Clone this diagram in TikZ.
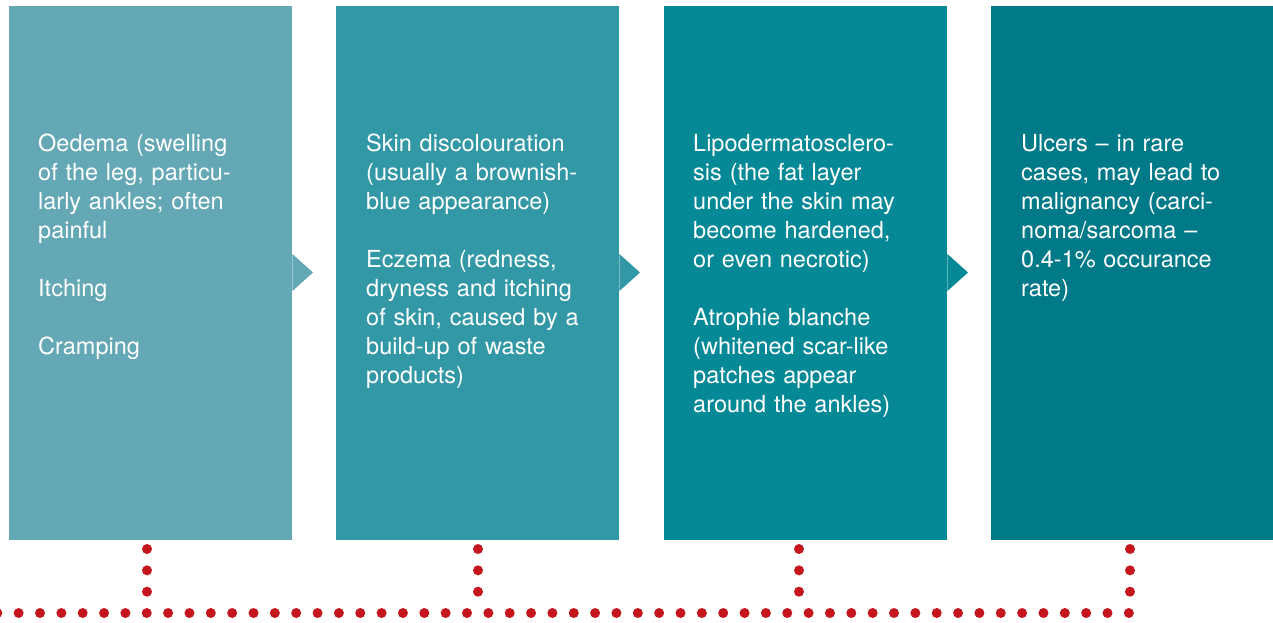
\documentclass[tikz,border=0pt]{standalone}
\usepackage{fontspec}
\setmainfont{TeX Gyre Heros}
\definecolor{cA}{HTML}{63A8B4}
\definecolor{cB}{HTML}{3398A6}
\definecolor{cC}{HTML}{068996}
\definecolor{cD}{HTML}{007A88}
\definecolor{dotred}{HTML}{C4161C}
\tikzset{
  stagebox/.style={draw=none, inner sep=0pt, minimum width=283pt, minimum height=534pt, anchor=north west},
  stagetext/.style={text=white, inner sep=0pt, anchor=base west, text width=260pt, align=left,
    font=\fontsize{23.5}{29}\selectfont},
  dotline/.style={dotred, line width=10pt, line cap=round, dash pattern=on 0pt off 21.35pt}
}
\begin{document}
\begin{tikzpicture}[x=1pt,y=-1pt]
\useasboundingbox (0,0) rectangle (1273,623);
\node[stagebox, fill=cA] (b1) at (9,6) {};
\node[stagebox, fill=cB] (b2) at (336,6) {};
\node[stagebox, fill=cC] (b3) at (664,6) {};
\node[stagebox, fill=cD, minimum width=284pt] (b4) at (991,6) {};
\fill[cA] (b1.north east |- 0,254) -- (313,272.5) -- (b1.north east |- 0,291) -- cycle;
\fill[cB] (b2.north east |- 0,254) -- (640,272.5) -- (b2.north east |- 0,291) -- cycle;
\fill[cC] (b3.north east |- 0,254) -- (968,272.5) -- (b3.north east |- 0,291) -- cycle;

\node[stagetext] (t1) at (38,151) {Oedema (swelling\\of the leg, particu-\\larly ankles; often\\painful\\[29pt]Itching\\[29pt]Cramping};
\node[stagetext] (t2) at (366,151) {Skin discolouration\\(usually a brownish-\\blue appearance)\\[29pt]Eczema (redness,\\dryness and itching\\of skin, caused by a\\build-up of waste\\products)};
\node[stagetext] (t3) at (693,151) {Lipodermatosclero-\\sis (the fat layer\\under the skin may\\become hardened,\\or even necrotic)\\[29pt]Atrophie blanche\\(whitened scar-like\\patches appear\\around the ankles)};
\node[stagetext] (t4) at (1021,151) {Ulcers -- in rare\\cases, may lead to\\malignancy (carci-\\noma/sarcoma --\\0.4-1\% occurance\\rate)};

\coordinate (d1) at (147,549);
\coordinate (d2) at (478,549);
\coordinate (d3) at (799,549);
\coordinate (d4) at (1130,549);
\coordinate (e1) at (147,613);
\coordinate (e2) at (478,613);
\coordinate (e3) at (799,613);
\coordinate (e4) at (1130,613);
\coordinate (start) at (-2.7,613);
\draw[dotline] (start) -- (e4);
\draw[dotline] (d1) -- (e1);
\draw[dotline] (d2) -- (e2);
\draw[dotline] (d3) -- (e3);
\draw[dotline] (d4) -- (e4);
\end{tikzpicture}
\end{document}
